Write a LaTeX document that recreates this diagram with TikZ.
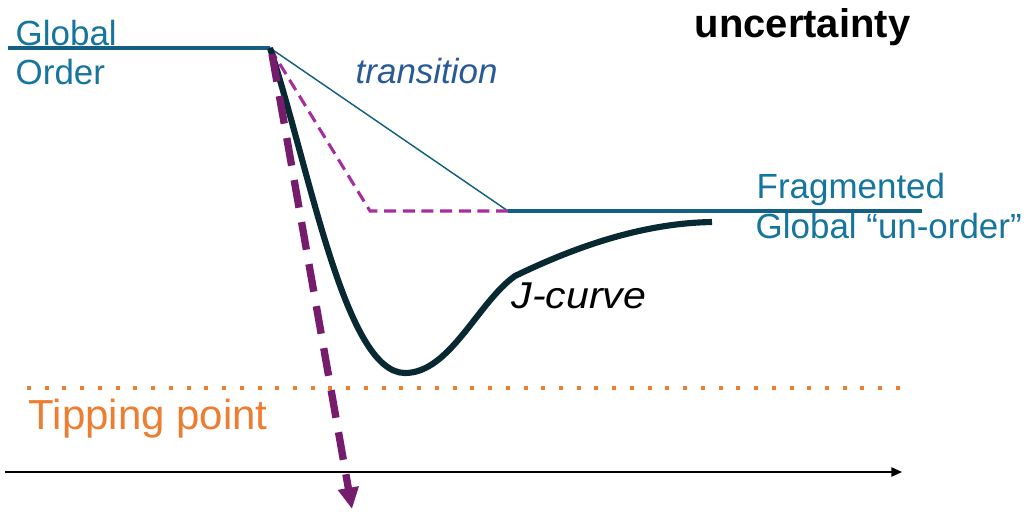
\documentclass[tikz,border=0pt]{standalone}
\usepackage{fontspec}
\setmainfont{Liberation Sans}
\usetikzlibrary{arrows.meta}
\definecolor{tmteal}{RGB}{20,96,130}
\definecolor{tmtext}{RGB}{22,117,158}
\definecolor{tmtrans}{RGB}{40,90,150}
\definecolor{tmjcurve}{RGB}{8,40,50}
\definecolor{tmpurple}{RGB}{165,45,160}
\definecolor{tmplum}{RGB}{118,28,108}
\definecolor{tmorange}{RGB}{237,125,49}

\tikzset{
  lbl/.style={anchor=base west,inner sep=0pt,font=\fontsize{26.2}{30}\selectfont},
}

\begin{document}
\begin{tikzpicture}[x=0.75pt,y=-0.75pt,line width=1.1pt]
  \useasboundingbox (0,0) rectangle (1027,511);
  \coordinate (O) at (8,48);
  \coordinate (A) at (270,48);
  \coordinate (B) at (370,211);
  \coordinate (C) at (508,211);
  \coordinate (D) at (922,211);
  \coordinate (M) at (405,373);
  \coordinate (K) at (515,276);
  \coordinate (E) at (712,222);
  \coordinate (T0) at (27,388);
  \coordinate (T1) at (902,388);
  \coordinate (X0) at (5,472);
  \coordinate (X1) at (902,472);
  \coordinate (S) at (272,54);
  \coordinate (F) at (352,509);
  % order levels and transition
  \draw[tmteal,line width=3pt] (O) -- (A) (C) -- (D);
  \draw[tmteal] (A) -- (C);
  \draw[tmpurple,line width=2.3pt,dash pattern=on 9pt off 5pt] (A) -- (B) -- (C);
  % J-curve
  \draw[tmjcurve,line width=4.6pt] (A) .. controls (310,170) and (345,373) .. (M)
    .. controls (450,373) and (478,302) .. (K)
    .. controls (585,242) and (650,223) .. (E);
  % collapse
  \draw[tmplum,line width=5.5pt,dash pattern=on 21pt off 11pt,
    -{Triangle[length=16pt,width=15pt]}] (S) -- (F);
  % tipping point and axis
  \draw[tmorange,line width=3pt,dash pattern=on 3pt off 10.3pt] (T0) -- (T1);
  \draw[-{Triangle[length=8pt,width=7pt]}] (X0) -- (X1);
  \node[lbl,tmtext] (glob) at (15,45) {Global};
  \node[lbl,tmtext] (ord) at (15,84) {Order};
  \node[lbl,tmtrans,font=\fontsize{26.2}{30}\selectfont\itshape] (trans) at (355,83) {transition};
  \node[lbl,font=\fontsize{30}{34}\selectfont\bfseries] (unc) at (694,37) {uncertainty};
  \node[lbl,tmtext] (frag) at (756,198) {Fragmented};
  \node[lbl,tmtext] (unord) at (755,238) {Global “un-order”};
  \node[lbl,font=\fontsize{28}{32}\selectfont\itshape\addfontfeature{FakeStretch=1.1}] (jc) at (511,308) {J-curve};
  \node[lbl,tmorange,font=\fontsize{31.5}{35}\selectfont] (tip) at (28,429) {Tipping point};
\end{tikzpicture}
\end{document}
